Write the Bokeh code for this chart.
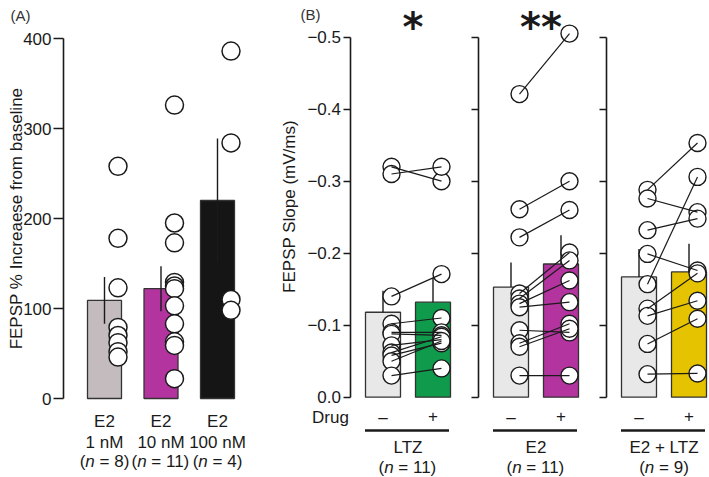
import math
from bokeh.plotting import figure
from bokeh.models import Range1d, LinearAxis, FixedTicker
from bokeh.core.properties import value
from bokeh.embed import file_html
from bokeh.resources import INLINE

# ---------------- data ----------------
# Panel A: FEPSP % increase from baseline
A_drug = ["E2", "E2", "E2"]
A_conc = ["1 nM", "10 nM", "100 nM"]
A_n = [8, 11, 4]
A_mean = [109, 122, 220]
A_sem = [26, 25, 69]
A_points = [
    [258, 178, 123, 79, 70, 62, 52, 46],
    [326, 195, 173, 129, 125, 122, 103, 83, 63, 59, 22],
    [386, 284, 110, 98],
]
A_colors = ["#c4bbbe", "#b3349f", "#151515"]

# Panel B: FEPSP slope (mV/ms), before (-) and with (+) drug
B_groups = ["LTZ", "E2", "E2 + LTZ"]
B_n = [11, 11, 9]
B_pre_mean = [-0.118, -0.153, -0.167]
B_pre_sem = [0.030, 0.034, 0.039]
B_post_mean = [-0.132, -0.185, -0.174]
B_post_sem = [0.034, 0.040, 0.039]
B_pre = [
    [-0.320, -0.310, -0.140, -0.102, -0.090, -0.088, -0.072, -0.062, -0.058, -0.050, -0.030],
    [-0.421, -0.261, -0.222, -0.144, -0.137, -0.130, -0.125, -0.093, -0.075, -0.070, -0.030],
    [-0.288, -0.276, -0.232, -0.199, -0.157, -0.123, -0.113, -0.074, -0.032],
]
B_post = [
    [-0.300, -0.320, -0.171, -0.110, -0.090, -0.086, -0.080, -0.084, -0.075, -0.078, -0.040],
    [-0.505, -0.300, -0.260, -0.201, -0.190, -0.162, -0.132, -0.090, -0.102, -0.095, -0.030],
    [-0.353, -0.257, -0.248, -0.176, -0.306, -0.172, -0.134, -0.109, -0.033],
]
B_pre_color = "#e8e8e8"
B_post_colors = ["#0f9a4c", "#b3349f", "#e6c300"]
B_stars = ["*", "**", ""]
A_ticks = [0, 100, 200, 300, 400]
B_ticks = [-0.5, -0.4, -0.3, -0.2, -0.1, 0.0]
B_tick_labels = ["\u22120.5", "\u22120.4", "\u22120.3", "\u22120.2", "\u22120.1", "0.0"]

# ---------------- layout ----------------
FONT = "Liberation Sans"
FS = "17px"
A_X0, A_STEP, A_W, A_PT = 104.0, 56.5, 34, 13.5
A_AXIS_X = 63.0
B_AXIS_X0, B_AXIS_STEP = 349.5, 128.0
B_PRE_OFF, B_POST_OFF, B_W, B_PT = 33.0, 83.0, 35, 8.5

W, H = 709, 477
p = figure(width=W, height=H, output_backend="svg", toolbar_location=None,
           x_range=Range1d(0, W), y_range=Range1d((398.0 - H) / 0.9, 398.0 / 0.9),
           x_axis_location=None, y_axis_location=None, min_border=0,
           outline_line_color=None, background_fill_color="white")
p.grid.visible = False
p.extra_y_ranges = {"B": Range1d(start=(H - 396.7) / 720.0, end=-396.7 / 720.0)}


def ya(page_y):
    # page pixel row -> value on the A range (used only for placing text)
    return (398.0 - page_y) / 0.9


def txt(x, y, s, size=FS, align="center", baseline="middle", style="normal",
        font=FONT, angle=0.0, color="#1a1a1a"):
    p.text(x=[x], y=[y], text=[s], text_font=value(font), text_font_size=value(size),
           text_align=align, text_baseline=baseline, text_font_style=style,
           angle=angle, text_color=color)


AW = {"(": 0.333, ")": 0.333, "n": 0.556, " ": 0.278, "=": 0.584}


def n_label(xc, page_y, count, fs=17):
    w = lambda s: sum(AW.get(c, 0.556) for c in s) * fs
    rest = "= %d)" % count
    total = w("(") + w("n") + w(" ") + w(rest)
    x = xc - total / 2.0
    txt(x, ya(page_y), "(", size="%dpx" % fs, align="left")
    x += w("(")
    txt(x, ya(page_y), "n", size="%dpx" % fs, align="left", style="italic")
    x += w("n") + w(" ")
    txt(x, ya(page_y), rest, size="%dpx" % fs, align="left")


def add_axis(loc, rng, ticks, labels, bounds, tick_out):
    ax = LinearAxis(fixed_location=loc, y_range_name=rng,
                    ticker=FixedTicker(ticks=ticks), bounds=bounds,
                    major_label_overrides=dict(zip(ticks, labels)),
                    axis_line_color="#1a1a1a", axis_line_width=1.6,
                    major_tick_line_color="#1a1a1a", major_tick_line_width=1.6,
                    major_tick_out=tick_out, major_tick_in=0,
                    minor_tick_out=0, minor_tick_in=0,
                    major_label_standoff=2,
                    major_label_text_font=FONT, major_label_text_font_size=FS,
                    major_label_text_color="#1a1a1a")
    p.add_layout(ax, "left")


# ---------------- panel A ----------------
ax_c = [A_X0 + i * A_STEP for i in range(len(A_mean))]
p.vbar(x=ax_c, top=A_mean, bottom=0, width=A_W, fill_color=A_colors,
       line_color="#333333", line_width=1.3)
p.segment(x0=ax_c, y0=[m - s for m, s in zip(A_mean, A_sem)],
          x1=ax_c, y1=[m + s for m, s in zip(A_mean, A_sem)],
          line_color="#1a1a1a", line_width=1.4)
for i, pts in enumerate(A_points):
    p.scatter(x=[ax_c[i] + A_PT] * len(pts), y=pts, size=18, marker="circle",
              fill_color="white", line_color="#1a1a1a", line_width=1.5)
add_axis(A_AXIS_X, "default", A_ticks, [str(t) for t in A_ticks], (0, 400), 10)

for i in range(len(A_mean)):
    txt(ax_c[i], ya(421), A_drug[i])
    txt(ax_c[i], ya(442), A_conc[i])
    n_label(ax_c[i], 460.5, A_n[i])

txt(10, ya(15), "(A)", size="15px", align="left", color="#333333")
txt(16, ya(218), "FEPSP % Increaese from baseline", angle=math.pi / 2)

# ---------------- panel B ----------------
for g in range(len(B_groups)):
    axx = B_AXIS_X0 + g * B_AXIS_STEP
    xpre, xpost = axx + B_PRE_OFF, axx + B_POST_OFF
    p.vbar(x=[xpre, xpost], top=[B_pre_mean[g], B_post_mean[g]], bottom=0, width=B_W,
           fill_color=[B_pre_color, B_post_colors[g]], line_color="#333333",
           line_width=1.3, y_range_name="B")
    p.segment(x0=[xpre, xpost], y0=[B_pre_mean[g], B_post_mean[g]],
              x1=[xpre, xpost], y1=[B_pre_mean[g] - B_pre_sem[g], B_post_mean[g] - B_post_sem[g]],
              line_color="#1a1a1a", line_width=1.4, y_range_name="B")
    pre, post = B_pre[g], B_post[g]
    p.scatter(x=[xpre + B_PT] * len(pre), y=pre, size=17, marker="circle",
              fill_color="white", line_color="#1a1a1a", line_width=1.4, y_range_name="B")
    p.scatter(x=[xpost + B_PT] * len(post), y=post, size=17, marker="circle",
              fill_color="white", line_color="#1a1a1a", line_width=1.4, y_range_name="B")
    p.segment(x0=[xpre + B_PT] * len(pre), y0=pre, x1=[xpost + B_PT] * len(post), y1=post,
              line_color="#1a1a1a", line_width=1.2, y_range_name="B")

    labels = B_tick_labels if g == 0 else [""] * len(B_ticks)
    add_axis(axx, "B", B_ticks, labels, (-0.5, 0.0), 7)

    txt(xpre, ya(416.5), "\u2013")
    txt(xpost, ya(415.5), "+")
    p.segment(x0=[axx + 15], y0=[ya(430)], x1=[axx + 99], y1=[ya(430)],
              line_color="#1a1a1a", line_width=2.6)
    xc = axx + 58
    txt(xc, ya(447), B_groups[g])
    n_label(xc, 467, B_n[g])
    if B_stars[g]:
        txt((xpre + xpost) / 2.0 + 5, ya(26), B_stars[g], size="40px",
            baseline="alphabetic", style="bold", font="DejaVu Sans", color="#1a1a1a")

txt(330, ya(417), "Drug", align="center")
txt(300, ya(14), "(B)", size="15px", align="left", color="#333333")
txt(289, ya(206), "FEPSP Slope (mV/ms)", angle=math.pi / 2)

open("out.html", "w").write(file_html(p, INLINE))
